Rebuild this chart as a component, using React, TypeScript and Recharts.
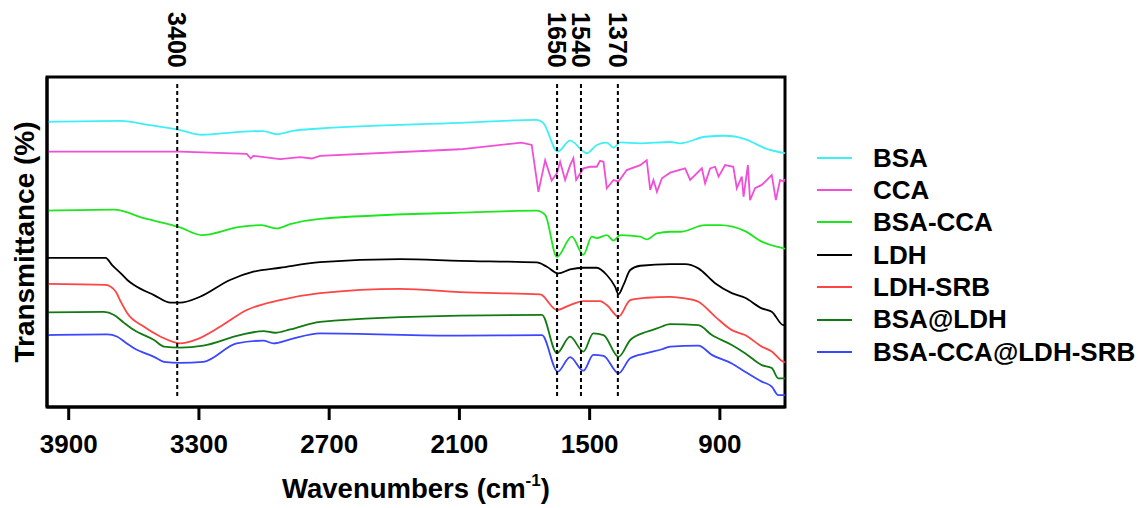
import { LineChart, Line, XAxis, YAxis, ReferenceLine, ReferenceArea, Legend } from 'recharts';

type Pt = [number, number];

const FONT = '"Liberation Sans", Arial, Helvetica, sans-serif';

// wavenumber (cm-1), transmittance (arbitrary offset %)
const BSA: Pt[] = [
  [4000, 86.4], [3660, 86.7], [3525, 85.4], [3387, 83.9], [3287, 82.5], [3111, 83.4], [3005, 83.6],
  [2942, 82.7], [2866, 83.7], [2742, 84.4], [2097, 86.1], [1744, 87.0], [1714, 86.1], [1647, 77.4],
  [1590, 80.7], [1513, 76.9], [1467, 79.4], [1421, 80.1], [1390, 78.6], [1359, 80.2], [1267, 79.9],
  [1129, 80.3], [1083, 79.9], [968, 81.9], [876, 82.2], [784, 81.2], [691, 78.4], [600, 76.9],
];

const CCA: Pt[] = [
  [4000, 77.4], [3387, 77.4], [3080, 76.7], [3061, 75.3], [3050, 76.1], [2926, 75.1], [2834, 75.7],
  [2780, 75.3], [2742, 76.1], [2097, 78.1], [1813, 80.1], [1767, 79.4], [1736, 65.2], [1705, 74.8],
  [1675, 68.6], [1651, 70.8], [1636, 74.3], [1613, 68.8], [1590, 73.3], [1575, 75.4], [1562, 68.8],
  [1529, 72.3], [1498, 72.8], [1467, 72.8], [1452, 74.6], [1436, 74.3], [1421, 66.3], [1390, 68.8],
  [1367, 68.3], [1329, 71.8], [1267, 73.3], [1237, 74.8], [1221, 65.8], [1206, 68.8], [1190, 65.2],
  [1167, 69.3], [1129, 71.0], [1060, 72.3], [1037, 68.8], [983, 72.3], [968, 67.8], [945, 72.3],
  [922, 72.8], [906, 69.8], [876, 73.3], [838, 72.8], [822, 66.3], [799, 69.8], [791, 63.7],
  [771, 73.3], [761, 62.7], [738, 66.3], [707, 67.3], [661, 70.3], [642, 62.7], [623, 68.8],
  [607, 68.3], [600, 69.0],
];

const BSA_CCA: Pt[] = [
  [4000, 59.5], [3691, 59.8], [3553, 57.2], [3387, 54.4], [3287, 52.1], [3111, 54.6], [3011, 55.1],
  [2942, 54.1], [2880, 55.4], [2742, 57.0], [2097, 58.9], [1744, 59.5], [1705, 58.2], [1651, 45.5],
  [1582, 51.6], [1529, 46.1], [1490, 51.6], [1467, 51.2], [1421, 52.1], [1390, 50.4], [1359, 52.1],
  [1267, 51.6], [1237, 50.8], [1190, 52.6], [1129, 53.1], [1083, 53.1], [968, 55.1], [899, 55.1],
  [784, 53.3], [707, 50.1], [607, 48.1], [600, 48.0],
];

const LDH: Pt[] = [
  [4000, 45.2], [3730, 45.2], [3700, 43.0], [3660, 40.5], [3630, 38.5], [3599, 37.0], [3507, 33.9],
  [3430, 31.6], [3387, 31.6], [3295, 33.4], [3157, 38.5], [3049, 41.0], [2926, 42.2], [2742, 43.9],
  [2373, 44.8], [2097, 44.3], [1744, 43.8], [1697, 42.5], [1644, 40.5], [1590, 41.7], [1529, 42.2],
  [1467, 42.2], [1421, 40.0], [1383, 36.5], [1367, 34.2], [1344, 37.0], [1313, 41.5], [1267, 42.8],
  [1129, 43.3], [1060, 43.3], [999, 42.0], [922, 37.5], [845, 34.5], [784, 33.1], [707, 29.9],
  [661, 28.9], [607, 24.8], [600, 24.8],
];

const LDH_SRB: Pt[] = [
  [4000, 37.3], [3730, 37.0], [3683, 34.9], [3660, 31.9], [3630, 28.4], [3553, 24.3], [3476, 21.3],
  [3387, 19.3], [3310, 20.5], [3203, 24.3], [3080, 29.4], [2926, 32.4], [2742, 34.5], [2373, 35.8],
  [2097, 34.8], [1728, 34.1], [1651, 29.4], [1590, 30.9], [1529, 32.1], [1452, 32.1], [1421, 30.9],
  [1367, 27.4], [1313, 32.4], [1237, 33.1], [1129, 33.4], [1060, 32.9], [999, 31.9], [922, 27.4],
  [845, 23.3], [784, 21.8], [707, 18.3], [661, 16.8], [607, 13.7], [600, 13.6],
];

const BSA_LDH: Pt[] = [
  [4000, 28.7], [3737, 28.8], [3691, 27.9], [3645, 25.5], [3599, 23.3], [3507, 20.3], [3461, 18.3],
  [3387, 18.0], [3280, 18.6], [3111, 21.8], [3003, 23.0], [2949, 22.5], [2880, 23.5], [2742, 25.8],
  [2097, 27.7], [1720, 27.9], [1651, 16.3], [1590, 21.3], [1529, 16.8], [1483, 22.3], [1436, 21.8],
  [1367, 15.2], [1313, 20.3], [1237, 22.8], [1190, 23.8], [1129, 25.1], [999, 24.8], [937, 21.8],
  [845, 18.8], [784, 16.3], [707, 12.7], [661, 11.8], [631, 8.7], [600, 8.7],
];

const BSA_CCA_LDH_SRB: Pt[] = [
  [4000, 21.8], [3722, 22.0], [3676, 21.3], [3637, 19.5], [3599, 17.8], [3507, 15.2], [3461, 13.7],
  [3387, 13.4], [3280, 13.7], [3126, 19.3], [3003, 20.1], [2957, 19.3], [2880, 20.5], [2742, 22.3],
  [2097, 21.6], [1720, 21.8], [1647, 10.7], [1590, 15.1], [1529, 11.0], [1483, 15.8], [1436, 15.5],
  [1367, 10.2], [1313, 14.8], [1237, 16.3], [1167, 17.5], [1129, 18.3], [999, 18.6], [937, 15.8],
  [845, 13.2], [784, 10.7], [707, 7.7], [661, 6.2], [631, 3.6], [600, 3.6],
];

const X_TICKS = [3900, 3300, 2700, 2100, 1500, 900];
const PEAKS = [3400, 1650, 1540, 1370];

const series = [
  { name: 'BSA', color: '#3ef0f5', points: BSA, curve: 'monotone' },
  { name: 'CCA', color: '#f04fd6', points: CCA, curve: 'linear' },
  { name: 'BSA-CCA', color: '#1ee61e', points: BSA_CCA, curve: 'monotone' },
  { name: 'LDH', color: '#000000', points: LDH, curve: 'monotone' },
  { name: 'LDH-SRB', color: '#ff4444', points: LDH_SRB, curve: 'monotone' },
  { name: 'BSA@LDH', color: '#117a11', points: BSA_LDH, curve: 'monotone' },
  { name: 'BSA-CCA@LDH-SRB', color: '#3a46ff', points: BSA_CCA_LDH_SRB, curve: 'monotone' },
];

const toRows = (pts: Pt[]) => pts.map(([wn, t]) => ({ wn, t }));

function PeakLabel(props: any) {
  const { viewBox, text } = props;
  const x = viewBox.x + (viewBox.width || 0) / 2;
  const y = viewBox.y - 44;
  return (
    <text x={x} y={y} transform={`rotate(90 ${x} ${y})`} textAnchor="middle" dominantBaseline="central"
      fontFamily={FONT} fontWeight={700} fontSize={25} fill="#000">
      {text}
    </text>
  );
}

function XTitle(props: any) {
  const { viewBox } = props;
  const x = viewBox.x + viewBox.width / 2;
  const y = viewBox.y + 91;
  return (
    <text x={x} y={y} textAnchor="middle" fontFamily={FONT} fontWeight={700} fontSize={27.5} fill="#000">
      Wavenumbers (cm<tspan dy={-12} fontSize={17}>-1</tspan><tspan dy={12}>)</tspan>
    </text>
  );
}

function YTitle(props: any) {
  const { viewBox } = props;
  const x = viewBox.x + 34;
  const y = viewBox.y + viewBox.height / 2;
  return (
    <text x={x} y={y} transform={`rotate(-90 ${x} ${y})`} textAnchor="middle"
      fontFamily={FONT} fontWeight={700} fontSize={28} fill="#000">
      Transmittance (%)
    </text>
  );
}

const renderLegend = () => (
  <div style={{ fontFamily: FONT, fontWeight: 700, fontSize: 26, color: '#000' }}>
    {series.map((s) => (
      <div key={s.name} style={{ display: 'flex', alignItems: 'center', height: 32.4 }}>
        <span style={{ display: 'inline-block', width: 35, height: 2, background: s.color, marginRight: 21 }} />
        <span style={{ lineHeight: '32.4px', whiteSpace: 'nowrap' }}>{s.name}</span>
      </div>
    ))}
  </div>
);

export default function App() {
  return (
    <div style={{ position: 'absolute', left: 0, top: 0, width: 1147, height: 508, background: '#fff' }}>
      <LineChart width={1147} height={508} margin={{ top: 77, right: 362, bottom: 0, left: 0 }}>
        <XAxis
          dataKey="wn"
          type="number"
          domain={[600, 4000]}
          reversed
          allowDataOverflow
          ticks={X_TICKS}
          tickSize={13}
          tickMargin={15}
          tick={{ fill: '#000', fontSize: 26, fontWeight: 700, fontFamily: FONT }}
          tickLine={{ stroke: '#000', strokeWidth: 3 }}
          axisLine={{ stroke: '#000', strokeWidth: 3 }}
          height={101}
          label={<XTitle />}
        />
        <YAxis
          type="number"
          domain={[0, 100]}
          tick={false}
          tickLine={false}
          axisLine={{ stroke: '#000', strokeWidth: 3 }}
          width={47}
          label={<YTitle />}
        />
        <ReferenceArea x1={600} x2={4000} y1={0} y2={100} fill="none" stroke="#000" strokeWidth={3} />
        {series.map((s) => (
          <Line
            key={s.name}
            data={toRows(s.points)}
            dataKey="t"
            name={s.name}
            type={s.curve as any}
            stroke={s.color}
            strokeWidth={1.8}
            dot={false}
            activeDot={false}
            isAnimationActive={false}
          />
        ))}
        {PEAKS.map((p) => (
          <ReferenceLine
            key={p}
            segment={[{ x: p, y: 97.9 }, { x: p, y: 3.3 }]}
            stroke="#000"
            strokeWidth={2}
            strokeDasharray="4 3"
            label={<PeakLabel text={String(p)} />}
          />
        ))}
        <Legend
          layout="vertical"
          align="center"
          verticalAlign="middle"
          content={renderLegend}
          wrapperStyle={{ left: 817, top: 141.5, width: 330 }}
        />
      </LineChart>
    </div>
  );
}
